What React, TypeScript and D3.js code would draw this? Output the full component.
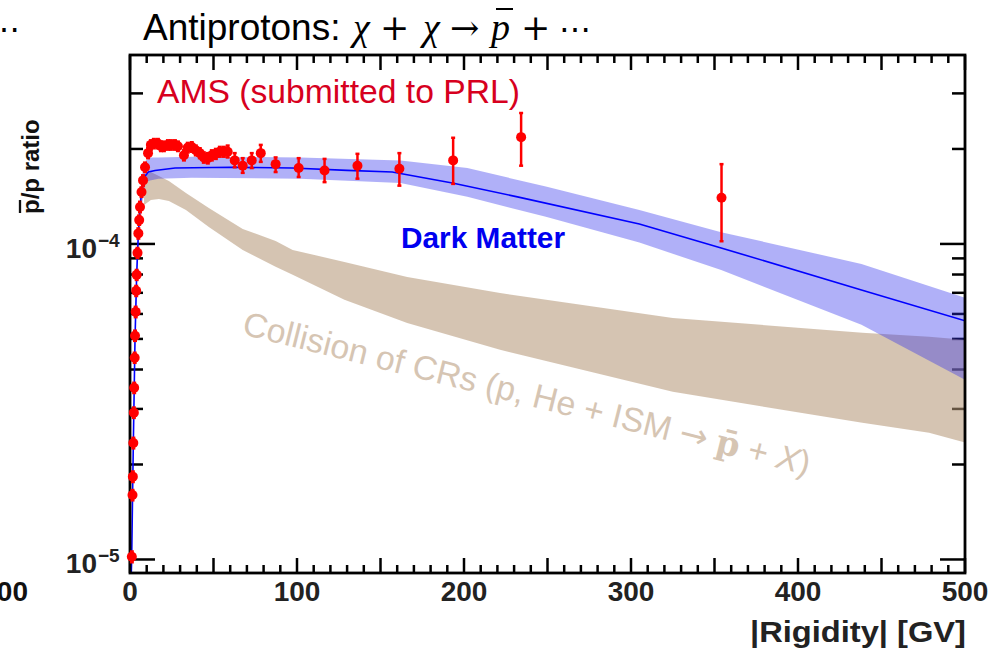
import React from "react";
import * as d3 from "d3";

// ---------- chart data ----------

// AMS antiproton-to-proton flux ratio: rigidity [GV], ratio, error-bar ends
const amsRigidity = [
  1.1, 1.5, 1.7, 2.0, 2.3, 2.5, 2.8, 3.0, 3.4, 3.7, 4.0, 4.5, 5.0, 5.5, 6.0, 6.9, 7.8, 9.0, 10.8,
  12.5, 14.3, 16.7, 18.5, 20.3, 22.7, 24.5, 26.9, 28.7, 32.3, 34.6, 37.0, 39.4, 41.8, 44.2, 46.6,
  49.0, 51.4, 53.8, 56.2, 58.5,
  62.7, 67.5, 72.9, 78.3, 87.2, 101, 116.5, 136.2, 161.3, 193.5, 234.2, 354.2,
];
const amsRatio = [
  1.02e-5, 1.6e-5, 1.83e-5, 2.34e-5, 2.92e-5, 3.5e-5, 4.36e-5, 5.12e-5, 6.09e-5, 7.1e-5, 7.98e-5,
  9.37e-5, 1.08e-4, 1.19e-4, 1.31e-4, 1.46e-4, 1.59e-4, 1.75e-4, 1.94e-4,
  2.06e-4, 2.08e-4, 2.08e-4, 2.04e-4, 2.04e-4, 2.06e-4, 2.06e-4, 2.06e-4, 2.04e-4, 1.91e-4, 2.02e-4,
  2.03e-4, 1.98e-4, 1.94e-4, 1.88e-4, 1.87e-4, 1.91e-4, 1.93e-4, 1.96e-4, 1.96e-4, 1.96e-4,
  1.84e-4, 1.77e-4, 1.84e-4, 1.94e-4, 1.79e-4, 1.74e-4, 1.71e-4, 1.77e-4, 1.73e-4, 1.84e-4, 2.18e-4,
  1.4e-4,
];
const amsLow = [
  0.98e-5, 1.54e-5, 1.76e-5, 2.25e-5, 2.81e-5, 3.37e-5, 4.2e-5, 4.93e-5, 5.86e-5, 6.84e-5, 7.69e-5,
  9.03e-5, 1.04e-4, 1.15e-4, 1.26e-4, 1.41e-4, 1.53e-4, 1.69e-4, 1.87e-4,
  1.99e-4, 2.01e-4, 2.01e-4, 1.97e-4, 1.97e-4, 1.99e-4, 1.99e-4, 1.99e-4, 1.97e-4, 1.84e-4, 1.95e-4,
  1.96e-4, 1.91e-4, 1.87e-4, 1.81e-4, 1.8e-4, 1.84e-4, 1.86e-4, 1.89e-4, 1.89e-4, 1.88e-4,
  1.75e-4, 1.68e-4, 1.74e-4, 1.82e-4, 1.69e-4, 1.63e-4, 1.57e-4, 1.61e-4, 1.53e-4, 1.55e-4, 1.77e-4,
  1.02e-4,
];
const amsHigh = [
  1.06e-5, 1.66e-5, 1.9e-5, 2.43e-5, 3.03e-5, 3.63e-5, 4.52e-5, 5.31e-5, 6.32e-5, 7.36e-5, 8.27e-5,
  9.71e-5, 1.12e-4, 1.23e-4, 1.36e-4, 1.51e-4, 1.65e-4, 1.81e-4, 2.01e-4,
  2.13e-4, 2.15e-4, 2.15e-4, 2.11e-4, 2.11e-4, 2.13e-4, 2.13e-4, 2.13e-4, 2.11e-4, 1.98e-4, 2.09e-4,
  2.1e-4, 2.05e-4, 2.01e-4, 1.95e-4, 1.94e-4, 1.98e-4, 2.0e-4, 2.03e-4, 2.03e-4, 2.05e-4,
  1.94e-4, 1.87e-4, 1.94e-4, 2.06e-4, 1.88e-4, 1.87e-4, 1.86e-4, 1.93e-4, 1.94e-4, 2.17e-4, 2.6e-4,
  1.79e-4,
];

// Dark-matter model: central curve
const dmLineRigidity = [
  0.5, 1.0, 1.5, 2, 3, 4, 5, 6, 7, 8, 9, 11, 15, 27, 60, 97, 130, 157, 193, 232, 305, 354, 438, 500,
];
const dmLineRatio = [
  8.0e-6, 1.0e-5, 1.55e-5, 2.35e-5, 5.0e-5, 8.0e-5, 1.08e-4, 1.3e-4, 1.48e-4, 1.58e-4, 1.64e-4,
  1.69e-4, 1.71e-4, 1.74e-4, 1.75e-4, 1.74e-4, 1.71e-4, 1.69e-4, 1.56e-4, 1.41e-4, 1.157e-4,
  9.71e-5, 7.15e-5, 5.71e-5,
];

// Dark-matter model: uncertainty band
const dmBandRigidity = [
  0.5, 1, 2, 3, 4, 5, 6, 7, 8, 9.5, 12, 17, 37, 102, 162, 202, 249, 305, 354, 438, 500,
];
const dmBandLow = [
  7.6e-6, 9.6e-6, 2.2e-5, 4.6e-5, 7.3e-5, 9.8e-5, 1.17e-4, 1.31e-4, 1.42e-4, 1.57e-4, 1.59e-4,
  1.61e-4, 1.62e-4, 1.61e-4, 1.56e-4, 1.41e-4, 1.22e-4, 1.01e-4, 8.27e-5, 5.54e-5, 3.71e-5,
];
const dmBandHigh = [
  8.4e-6, 1.06e-5, 2.5e-5, 5.4e-5, 8.7e-5, 1.18e-4, 1.42e-4, 1.63e-4, 1.76e-4, 1.84e-4, 1.88e-4,
  1.88e-4, 1.89e-4, 1.88e-4, 1.84e-4, 1.74e-4, 1.52e-4, 1.28e-4, 1.09e-4, 8.64e-5, 6.75e-5,
];

// Secondary production from cosmic-ray collisions: band
const crBandRigidity = [
  8.4, 12.5, 17.3, 23.3, 33.5, 47.2, 67.5, 87.2, 97.4, 128.4, 166, 221.6, 325, 438.5, 478.5, 500,
];
const crBandLow = [
  1.328e-4, 1.378e-4, 1.388e-4, 1.368e-4, 1.281e-4, 1.132e-4, 9.57e-5, 8.46e-5, 7.98e-5, 6.65e-5,
  5.62e-5, 4.62e-5, 3.4e-5, 2.71e-5, 2.52e-5, 2.35e-5,
];
const crBandHigh = [
  1.641e-4, 1.69e-4, 1.641e-4, 1.583e-4, 1.45e-4, 1.3e-4, 1.116e-4, 1.022e-4, 9.57e-5, 8.77e-5,
  7.86e-5, 6.99e-5, 5.83e-5, 5.23e-5, 5.08e-5, 4.97e-5,
];

// Axis ticks
const xMajorTicks = d3.range(0, 501, 50);
const xMinorTicks = d3.range(0, 501, 10).filter((t) => t % 50 !== 0);
const xTickLabels = [0, 100, 200, 300, 400, 500];
const yMajorTicks = [1e-5, 1e-4];
const yMinorTicks = [2e-5, 3e-5, 4e-5, 5e-5, 6e-5, 7e-5, 8e-5, 9e-5, 2e-4, 3e-4];
const yTickExponents = ["\u22125", "\u22124"];

// ---------- layout ----------
const W = 992;
const H = 652;
const P = { left: 130, right: 965, top: 55, bottom: 573 };
const SANS = "'Liberation Sans', Arial, Helvetica, sans-serif";
const SERIF = "'Liberation Serif', 'Times New Roman', serif";
const DJSERIF = "'DejaVu Serif', serif";
const DJSANS = "'DejaVu Sans', sans-serif";

export default function App() {
  const x = d3.scaleLinear().domain([0, 500]).range([P.left, P.right]);
  const y = d3.scaleLog().domain([9.06e-6, 3.97e-4]).range([P.bottom, P.top]);

  const dmLinePath = d3
    .line<number>()
    .x((i) => x(dmLineRigidity[i]))
    .y((i) => y(dmLineRatio[i]))(d3.range(dmLineRigidity.length));

  const dmBandPath = d3
    .area<number>()
    .x((i) => x(dmBandRigidity[i]))
    .y0((i) => y(dmBandLow[i]))
    .y1((i) => y(dmBandHigh[i]))(d3.range(dmBandRigidity.length));

  const crBandPath = d3
    .area<number>()
    .x((i) => x(crBandRigidity[i]))
    .y0((i) => y(crBandLow[i]))
    .y1((i) => y(crBandHigh[i]))(d3.range(crBandRigidity.length));

  const tickStroke = { stroke: "#000", strokeWidth: 2.5 };

  return (
    <div style={{ position: "absolute", left: 0, top: 0 }}>
      <svg width={W} height={H} viewBox={`0 0 ${W} ${H}`} style={{ display: "block" }}>
        <defs>
          <clipPath id="plot-area">
            <rect x={P.left} y={P.top} width={P.right - P.left} height={P.bottom - P.top} />
          </clipPath>
        </defs>
        <rect x={0} y={0} width={W} height={H} fill="#fff" />

        {/* tail of the neighbouring panel */}
        <text x={20} y={40} fontFamily={DJSERIF} fontSize={32} textAnchor="end" fill="#000">
          {"\u22EF"}
        </text>
        <text x={28} y={601} fontFamily={SANS} fontSize={28} fontWeight="bold" textAnchor="end" fill="#111">
          500
        </text>

        {/* title */}
        <g fill="#000">
          <text x={143} y={40} fontFamily={SANS} fontSize={37}>
            Antiprotons:
          </text>
          <text x={353} y={40} fontFamily={SERIF} fontStyle="italic" fontSize={38}>
            χ
          </text>
          <text x={380} y={40} fontFamily={DJSERIF} fontSize={35}>
            +
          </text>
          <text x={423} y={40} fontFamily={SERIF} fontStyle="italic" fontSize={38}>
            χ
          </text>
          <text x={450} y={40} fontFamily={DJSERIF} fontSize={35}>
            {"\u2192"}
          </text>
          <text x={491} y={40} fontFamily={SERIF} fontStyle="italic" fontSize={38}>
            p
          </text>
          <line x1={496} x2={513} y1={9} y2={9} stroke="#000" strokeWidth={2} />
          <text x={521} y={40} fontFamily={DJSERIF} fontSize={35}>
            +
          </text>
          <text x={559} y={40} fontFamily={DJSERIF} fontSize={32}>
            {"\u22EF"}
          </text>
        </g>

        {/* ticks on all four sides */}
        <g {...tickStroke}>
          {xMajorTicks.map((t) => (
            <g key={`xM${t}`}>
              <line x1={x(t)} x2={x(t)} y1={P.bottom} y2={P.bottom - 15} />
              <line x1={x(t)} x2={x(t)} y1={P.top} y2={P.top + 15} />
            </g>
          ))}
          {xMinorTicks.map((t) => (
            <g key={`xm${t}`}>
              <line x1={x(t)} x2={x(t)} y1={P.bottom} y2={P.bottom - 8} />
              <line x1={x(t)} x2={x(t)} y1={P.top} y2={P.top + 8} />
            </g>
          ))}
          {yMajorTicks.map((t) => (
            <g key={`yM${t}`}>
              <line x1={P.left} x2={P.left + 25} y1={y(t)} y2={y(t)} />
              <line x1={P.right} x2={P.right - 25} y1={y(t)} y2={y(t)} />
            </g>
          ))}
          {yMinorTicks.map((t) => (
            <g key={`ym${t}`}>
              <line x1={P.left} x2={P.left + 13} y1={y(t)} y2={y(t)} />
              <line x1={P.right} x2={P.right - 13} y1={y(t)} y2={y(t)} />
            </g>
          ))}
        </g>

        {/* model bands and curve */}
        <g clipPath="url(#plot-area)">
          <path d={crBandPath ?? ""} fill="rgb(180,150,118)" fillOpacity={0.56} />
          <path d={dmBandPath ?? ""} fill="rgb(47,47,237)" fillOpacity={0.38} />
          <path d={dmLinePath ?? ""} fill="none" stroke="#0000ff" strokeWidth={1.6} />
        </g>

        {/* frame */}
        <rect
          x={P.left}
          y={P.top}
          width={P.right - P.left}
          height={P.bottom - P.top}
          fill="none"
          stroke="#000"
          strokeWidth={2.8}
        />

        {/* in-plot annotations */}
        <text x={157} y={103} fontFamily={SANS} fontSize={33} fill="#d7001e" textLength={363} lengthAdjust="spacingAndGlyphs">
          AMS (submitted to PRL)
        </text>
        <text x={401} y={248} fontFamily={SANS} fontSize={30} fontWeight="bold" fill="#0000f0" textLength={164} lengthAdjust="spacingAndGlyphs">
          Dark Matter
        </text>
        <text
          transform="translate(241,334) rotate(14)"
          fontFamily={SANS}
          fontSize={33.8}
          fill="#d6c5b3"
        >
          {"Collision of CRs (p, He + ISM "}
          <tspan fontFamily={DJSANS}>{"\u2192"}</tspan>
          {" "}
          <tspan fontFamily={DJSERIF} fontWeight="bold">
            {"p\u0304"}
          </tspan>
          {" + "}
          <tspan fontStyle="italic">X</tspan>
          {")"}
        </text>

        {/* AMS measurements */}
        <g>
          {amsRigidity.map((r, i) => (
            <g key={`ams${i}`} stroke="#ff0000" strokeWidth={2.5}>
              <line x1={x(r)} x2={x(r)} y1={y(amsLow[i])} y2={y(amsHigh[i])} />
              <line x1={x(r) - 2} x2={x(r) + 2} y1={y(amsLow[i])} y2={y(amsLow[i])} />
              <line x1={x(r) - 2} x2={x(r) + 2} y1={y(amsHigh[i])} y2={y(amsHigh[i])} />
              <circle cx={x(r)} cy={y(amsRatio[i])} r={5} fill="#ff0000" stroke="none" />
            </g>
          ))}
        </g>

        {/* axis labels */}
        <g fontFamily={SANS} fontWeight="bold" fill="#222" fontSize={28}>
          {xTickLabels.map((t) => (
            <text key={`xl${t}`} x={x(t)} y={601} textAnchor="middle">
              {t}
            </text>
          ))}
          {yMajorTicks.map((t, i) => (
            <g key={`yl${t}`}>
              <text x={97} y={y(t) + 14} textAnchor="end">
                10
              </text>
              <text x={98} y={y(t) + 3} fontSize={19}>
                {yTickExponents[i]}
              </text>
            </g>
          ))}
          <text x={966} y={642} textAnchor="end" fontSize={30} textLength={216} lengthAdjust="spacingAndGlyphs">
            |Rigidity| [GV]
          </text>
        </g>
        <g transform="translate(39,214) rotate(-90)">
          <text x={0} y={0} fontFamily={SANS} fontWeight="bold" fontSize={24} fill="#111">
            p/p ratio
          </text>
          <line x1={1} x2={14} y1={-19} y2={-19} stroke="#111" strokeWidth={2.3} />
        </g>
      </svg>
    </div>
  );
}
